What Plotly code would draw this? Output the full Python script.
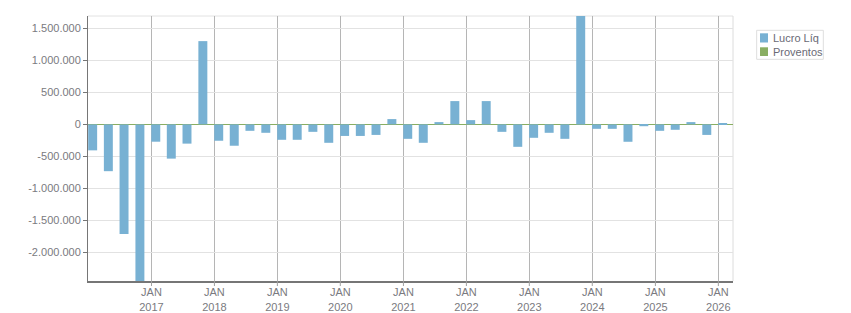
import plotly.graph_objects as go

# Quarter-end dates (one bar per quarter)
quarters = [
    "2015-12-31",
    "2016-03-31", "2016-06-30", "2016-09-30", "2016-12-31",
    "2017-03-31", "2017-06-30", "2017-09-30", "2017-12-31",
    "2018-03-31", "2018-06-30", "2018-09-30", "2018-12-31",
    "2019-03-31", "2019-06-30", "2019-09-30", "2019-12-31",
    "2020-03-31", "2020-06-30", "2020-09-30", "2020-12-31",
    "2021-03-31", "2021-06-30", "2021-09-30", "2021-12-31",
    "2022-03-31", "2022-06-30", "2022-09-30", "2022-12-31",
    "2023-03-31", "2023-06-30", "2023-09-30", "2023-12-31",
    "2024-03-31", "2024-06-30", "2024-09-30", "2024-12-31",
    "2025-03-31", "2025-06-30", "2025-09-30", "2025-12-31",
]

lucro_liq = [
    -405000,
    -730000, -1710000, -2450000, -270000,
    -534000, -300000, 1300000, -255000,
    -333000, -100000, -131000, -240000,
    -240000, -116000, -287000, -180000,
    -180000, -164000, 83000, -225000,
    -287000, 36000, 364000, 67000,
    364000, -116000, -350000, -209000,
    -131000, -225000, 1700000, -69000,
    -69000, -271000, -28000, -100000,
    -84000, 36000, -164000, 20000,
]

proventos = [0] * len(quarters)

series_names = ["Lucro Líq", "Proventos"]

y_tick_vals = [-2000000, -1500000, -1000000, -500000, 0, 500000, 1000000, 1500000]
y_tick_text = ["-2.000.000", "-1.500.000", "-1.000.000", "-500.000", "0",
               "500.000", "1.000.000", "1.500.000"]

x_tick_vals = ["2017-01-01", "2018-01-01", "2019-01-01", "2020-01-01", "2021-01-01",
               "2022-01-01", "2023-01-01", "2024-01-01", "2025-01-01", "2026-01-01"]
x_tick_text = ["JAN<br>2017", "JAN<br>2018", "JAN<br>2019", "JAN<br>2020", "JAN<br>2021",
               "JAN<br>2022", "JAN<br>2023", "JAN<br>2024", "JAN<br>2025", "JAN<br>2026"]

BAR_BLUE = "#78B1D3"
GREEN = "#89AE62"
DAY_MS = 86400000
bar_width = 52 * DAY_MS

fig = go.Figure()
fig.add_trace(go.Bar(
    x=quarters, y=lucro_liq, name=series_names[0],
    marker=dict(color=BAR_BLUE, line=dict(width=0)),
    width=bar_width, offset=0, showlegend=False,
))
fig.add_trace(go.Bar(
    x=quarters, y=proventos, name=series_names[1],
    marker=dict(color=GREEN, line=dict(width=0)),
    width=bar_width, offset=0, showlegend=False,
))

FONT = "Liberation Sans, Arial, sans-serif"
TXT = "#7a7a80"

fig.update_layout(
    width=851, height=313,
    margin=dict(l=88, r=118, t=16, b=32, autoexpand=False),
    paper_bgcolor="white", plot_bgcolor="white",
    barmode="overlay",
    showlegend=False,
    font=dict(family=FONT, size=11, color=TXT),
    xaxis=dict(
        type="date", automargin=False,
        range=["2015-12-30", "2026-03-27"],
        tickmode="array", tickvals=x_tick_vals, ticktext=x_tick_text,
        showgrid=True, gridcolor="#b5b5b5", gridwidth=1,
        showline=True, linecolor="#767676", linewidth=2,
        ticks="",
        tickfont=dict(family=FONT, size=11, color=TXT),
        zeroline=False,
    ),
    yaxis=dict(
        automargin=False,
        range=[-2444000, 1692000],
        tickmode="array", tickvals=y_tick_vals, ticktext=y_tick_text,
        showgrid=True, gridcolor="#e2e2e2", gridwidth=1,
        showline=True, linecolor="#767676", linewidth=1,
        ticks="outside", ticklen=4, tickcolor="#767676", tickwidth=1,
        tickfont=dict(family=FONT, size=11, color=TXT),
        zeroline=True, zerolinecolor=GREEN, zerolinewidth=1,
    ),
)

# small outside tick marks below the x axis at each tick value
for tv in x_tick_vals:
    fig.add_shape(type="line", xref="x", yref="paper", x0=tv, x1=tv,
                  y0=0, y1=-0.019, line=dict(color="#a0a0a0", width=1))

# light frame on top and right of plot area
fig.add_shape(type="line", xref="paper", yref="paper", x0=0, x1=1, y0=1, y1=1,
              line=dict(color="#e2e2e2", width=1), layer="below")
fig.add_shape(type="line", xref="paper", yref="paper", x0=1, x1=1, y0=0, y1=1,
              line=dict(color="#dcdcdc", width=1), layer="below")

# legend box (drawn manually for compact row spacing)
fig.add_shape(type="rect", xref="paper", yref="paper",
              x0=1.0367, x1=1.1400, y0=0.8366, y1=0.9460,
              line=dict(color="#dedede", width=1), fillcolor="white")
legend_colors = [BAR_BLUE, GREEN]
legend_rows = [(0.9000, 0.9347, 0.917), (0.8491, 0.8819, 0.8642)]
for name, col, (ya, yb, yc) in zip(series_names, legend_colors, legend_rows):
    fig.add_shape(type="rect", xref="paper", yref="paper",
                  x0=1.0419, x1=1.0543, y0=ya, y1=yb,
                  line=dict(width=0), fillcolor=col)
    fig.add_annotation(xref="paper", yref="paper", x=1.0589, y=yc,
                       xanchor="left", yanchor="middle", showarrow=False,
                       text=name, font=dict(family=FONT, size=11, color="#6a6a75"))

fig.write_html("out.html")
